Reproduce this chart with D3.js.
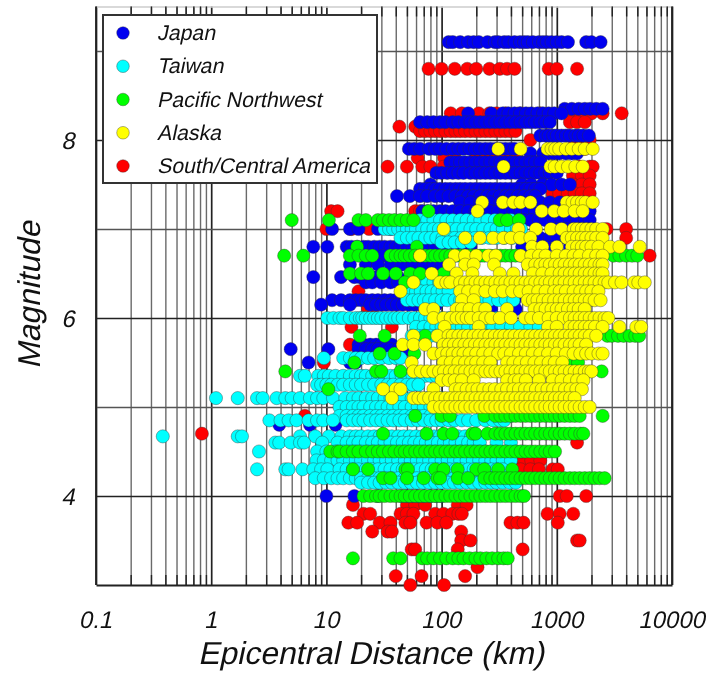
<!DOCTYPE html>
<html><head><meta charset="utf-8">
<script src="https://cdn.jsdelivr.net/npm/d3@7"></script>
<style>
html,body{margin:0;padding:0;background:#fff;overflow:hidden}
svg{display:block;filter:blur(0.55px)}
text{font-family:"Liberation Sans",Arial,sans-serif;fill:#111}
</style></head><body><svg id="c" width="723" height="673"></svg>
<script>
const xTickLabels = ["0.1","1","10","100","1000","10000"];
const xDecades = [0.1,1,10,100,1000,10000];
const xMinor = [0.2,0.3,0.4,0.5,0.6,0.7,0.8,0.9,2,3,4,5,6,7,8,9,20,30,40,50,60,70,80,90,200,300,400,500,600,700,800,900,2000,3000,4000,5000,6000,7000,8000,9000];
const yGrid = [4,5,6,7,8,9];
const yTickLabels = [4,6,8];
const legendNames = ["Japan","Taiwan","Pacific Northwest","Alaska","South/Central America"];
const legendColors = ["#0000f0","#00ffff","#00ff00","#ffff00","#ff0000"];

const redMags = [8.8,8.3,8.2,8.15,8.1,8.0,7.9,7.8,7.7,7.6,7.5,7.4,7.2,7.2,7.0,6.9,6.7,6.3,6.1,5.9,5.7,5.5,4.9,4.7,4.6,4.4,4.3,4.0,3.9,3.8,3.7,3.6,3.5,3.4,3.2,3.1,3.0];
const redDist = [
[77,100,130,167,200,260,320,370,430,850,1000,1500],
[120,150,210,260,300,360,480,720,1300,1600,2000,2500,3660],
[1300,1500,1750],
[43,59],
[65,72,80,88,97,108,120,132,145,160,178,197,217,240,265,293,324,358,396,438],
[590,1430,1750,1930],
[1430,1600,1750],
[62,105,130,197,217,240,265,293,324,358,396,438],
[34,50,68,80,104,1580,1930,2050],
[1380,1650,1930],
[1380,1650,1930],
[920,1050,1250,1430,1650,1930],
[11,12.5],
[59,65],
[10,16.5,23.5,2700,4000],
[4000],
[6400],
[19],
[23,25],
[16.5,37],
[16],
[9.5],
[6.5],
[0.83],
[1500],
[396,450,520,600,720],
[485,590,700,920,1020],
[1060,1220,1800],
[17,50,59,72,138,165],
[21,24,44,50,57,88,104,124,140,150,830,1060,1390],
[15.5,18.5,29,36,48.5,53.5,74,92,110,396,455,515,1020],
[25,34,37,148],
[148,178,1500,1580],
[55,59,138,505],
[205],
[40,67,160],
[53.5,105]];

const japanMags = [9.1,8.35,8.3,8.2,8.05,7.9,7.85,7.75,7.63,7.5,7.45,7.37,7.3,7.2,7.1,7.0,6.9,6.8,6.7,6.6,6.46,6.4,6.3,6.2,6.15,6.1,5.9,5.7,5.65,5.65,5.5,4.8,4.0];
const japanDist = [
[115,125,145,170,190,210,250,290,310,350,380,430,480,520,560,620,700,760,820,900,1000,1100,1250,1800,2000,2400],
[1170,1350,1550,1750,1950,2200,2500],
[170,270,340,380,430,480,540,600,680,760,850,950,1100],
[65,75,85,97,108,125,140,160,178,197,217,240,265,293,324,358,396,438,485,535,590,650,720,795,870],
[720,800,850,930,1000,1100,1200,1300,1450,1550,1700,1900],
[52,58,65,78,88,97,110,125,140,155,175,195,215,240,265,293,324,358,396,430],
[590,760,850,950,1050,1200,1350,1500],
[119,132,145,160,178,197,217,240,265,293,324,358,396,438,485,535,590,650,720],
[90,100,112,125,140,155,178,197,217,240,265,293,324,358,396,438,485,535,590,650,720,795,870,1000],
[80,500,600,750,900,1100,1300],
[65,72,80,88,97,108,119,132,145,160,178,197,217,240,265,293,324,358,396,438,485,535,590,650,720],
[41,53,65,75,88,100,115,132,150,170,190,217,250,280,320,360,400,460,520,590,650],
[145,178,217,265,324,396,485,590,720,870,1060],
[68,75,85,97,108,125,145,170,197,230,265,310,360,420,485,560,650,750,870,1000,1200,1430,1750,1930],
[520,600,700,800,950,1100,1300,1500,1750,1930],
[11.2,16,19,28,36,44,1000,1200,1400,1600,1900],
[620,720,870,1000,1200,1500,1900],
[7.7,10.2,15,16.5,18.5,21,23,26,29,32,36,40,44,50,56,62,70,78,88,100,115,130,150,178,500,620,800,1000,1300,1900],
[31,1100,1500],
[16,22,28,36,45,56,70,85,100],
[7.7,13.4,17.5,19.5,22,25,28,32,36,42],
[22,25,30,36,42,50,60,72,88],
[220,270,430],
[11.2,13.4,16,18,20,22,25,28,32,36,40,45,50,56,63,72,80,265,430],
[9,16,24,27,30,33,37,41,46,52,58,65,72,80,90],
[270,440],
[440,500,560,590],
[19,21,24,27,30,33,37],
[4.9,10.4],
[19,22,25,28,32,36,42,48,52],
[7,16,18],
[3.9,7.2,12],
[10,17.5,28,45,50,56,62,70,80,90,100]];

const taiwanMags = [7.1,7.0,6.9,6.85,6.4,6.3,6.2,6.0,5.9,5.8,5.55,5.35,5.25,5.1,5.0,4.9,4.85,4.67,4.6,4.5,4.4,4.3,4.2,4.15];
const taiwanDist = [
[65,75,85,97,110,125,145,165,190,217,250,290,330,400,470],
[32,35,38,42,46,50,55,60,68,75,85,95,105,120,135,155,178,200,230,265,300,340,400,450,490],
[44,50,56,63,72,80,90,102,115,130,148,170,195,225,260,300,350,410,480],
[100,115,130,150,178],
[56,60,68,75,85,95,110,119],
[54,60,66,74,82,92,102,115,240,290],
[50,56,63,70,78,88,100,112,130,145,165,190,220,260,310,360,420],
[10.2,11.5,13,14,16,18,19.5,20.5,22,24,26,28,30,33,36,39,42,46,52,58,65,72,80,90,100,115,130,150,170,200,240,300],
[60,70,80,90,100,115,130,150,170,200,235,280,330,400,480,590,700],
[55,62,70,80,90,240,300,360],
[9.5,14,16,18,20,23,26,30,35,40,44],
[5.9,6.5,8.5,9.5,10.5,12,14,16,18,20,22,25,28,32,36,40,45,50,56,63,72,80,90,100,115,130],
[8.3,9,10,11,12.5,14,16,18,20,23,26,30,34,38,44,50,56,63],
[1.1,1.7,2.5,2.8,3.7,4.4,5,5.9,7.2,8.3,9.4,11.4,14.6,17,19,22,25,28,32,36,41,47,55,65,75,85,100],
[13,15,17,19,21,24,27,30,34,38,43,48,55,62,70,80,90,260,320,400],
[13,15,17,19,21,24,27,30,34,38,43,48,55,62,70,80,90,240,320,400],
[3.2,4,4.7,5.5,7,8.3,9.4,11.4,15,17,19,21,24,27,30,34,38,43,48,55,62,70,80,90,100,115,130,150,170,200,240,280,320,350],
[0.38,1.7,1.85,5.9,8,10.5,13.5,16,18,20,23,26,29,33,37,42,47,53,60,68,76,86,97,110,125,140,160,180,205],
[3.6,3.9,4.9,5.9,6.4,9.2,12.5,15,17,19,22,25,28,32,36,41,46,52,58,65,73,82,93,105,118,132,150,170,190,215,300,400],
[2.6,8.3,10,12,14,16,18,20,23,26,29,33,37,42,48,54,61,69,78,88,100,113,128,145,165,187,212,240,270,300,360,440,500],
[8.2,9.5,11,12.5,14,16,18,20,23,26,29,33,37,42,48,54,61,69,78,88,100,113,128,145,165,187,212,240,270,300,340,400],
[2.5,4.4,4.7,6.2,7.7,9,10.2,13,15,17,19,22,25,28,32,36,41,46,52,58,65,73,82,93,105,118,132,150,170,190,215,240,270,300,340],
[8,9.5,11,12.5,14,16,18,20,23,26,29,33,37,42,48,54,61,69,78,88,100,113,128,145,165,187,212,240,270,320],
[20,23,26,29,33,37,42,48,54,61,69,78,88,100,113,128,145,165,187,212,240,270,300,340,390,440]];

const greenMags = [7.2,7.1,6.8,6.7,6.5,6.4,5.8,5.6,5.5,5.4,5.2,4.9,4.7,4.5,4.3,4.2,4.0,3.3];
const greenDist = [
[77],
[5,10.5,19,22,28,31,35,39,44,50,57,320,370,470],
[18.5,61],
[4.3,6.3,16,19,22,25,36,40,44,48,53,59,65,72,80,88,97,108,119,132,145,160,178,197,217,235,265,293,324,358,396,438,485,735,3100,3500,4000,4500,5000],
[16,20,23,31,40,53.5,65,104],
[48],
[19.5,32,72,2750,3000,3400,3800,4300,4800,5200],
[29,39,58],
[17.5,148,230,1200,1530],
[4.4,27,30,44,2450],
[10.4],
[59,100,118,235,293,324,358,396,438,485,535,590,650,720,795,870,965,1060,1170,1300,1430,1580,2500],
[31,74,104,124,185,197,250,293,324,358,396,438,485,535,590,650,720,795,870,965,1060,1170,1300,1430,1600,1700],
[10.8,12.5,13,15,17,19,22,25,28,31,35,39,44,48,53,59,65,72,80,88,97,108,119,132,145,160,178,197,217,240,265,293,324,358,396,438,485,535,590,650,720,795,870,965],
[17,23,48.5,51,88,104,138,200,235,310,410],
[31,36,50,70,92,97,138,170,235,265,293,324,358,396,438,485,535,590,650,720,795,870,965,1060,1170,1300,1430,1580,1750,1930,2130,2350,2600],
[21,24,27,29,32,36,40,44,48,53,59,65,72,80,88,97,108,119,132,145,160,178,197,217,240,265,293,324,358,396,438,485,520],
[17,38,44,68,75,85,97,110,125,140,155,175,197,217,245,275,310,345,375]];

const alaskaMags = [7.9,7.7,7.3,7.2,7.0,6.9,6.8,6.7,6.6,6.5,6.4,6.3,6.2,6.1,6.0,5.9,5.8,5.7,5.6,5.5,5.4,5.3,5.2,5.1,5.0];
const alaskaDist = [
[310,485,830,900,970,1050,1200,1350,1550,1750,2050],
[345,880,960,1100,1250,1450,1680],
[225,340,420,485,590,1220,1370,1500,1650,1780,2050],
[205,740,950,1150,1430,1680],
[104,465,660,890,1100,1400,1500,1650,1800,2000,2200,2500],
[160,215,280,345,400,480,590,1220,1350,1500,1650,1800,2000,2200,2500],
[610,750,1000,1350,1500,1650,1800,2000,2300,2900,3500,5250],
[65,130,160,200,255,295,485,600,700,800,1000,1200,1400,1580,1900,2200,2500],
[116,160,190,285,560,650,720,795,870,965,1060,1170,1300,1430,1580,1750,1930,2130,2350,2500],
[82,135,185,320,420,620,750,900,1060,1170,1300,1430,1580,1750,1930,2130,2350,2500],
[57,97,110,119,145,160,178,197,217,240,265,293,324,358,396,438,485,535,590,650,720,795,870,965,1060,1170,1300,1430,1580,1750,1930,2130,2350,2600,2800,3200,3650,4700,5100,5800],
[44,145,170,200,240,290,340,410,480,570,690,800,950,1060,1200,1400,1600,1800,2000,2300],
[150,190,560,620,680,760,850,950,1060,1170,1300,1430,1580,1750,1930,2130,2400],
[72,85,135,150,175,210,240,370,640,720,800,900,1000,1100,1250,1400,1550,1750],
[85,104,120,135,150,165,180,210,240,270,320,400,530,600,700,850,1000,1150,1300,1430,1580,1750,1930,2130,2350,2600,2800],
[106,210,840,1000,1300,1430,1580,1750,1930,2150,2500,3500,4900,5400],
[57,92,115,125,140,155,170,190,210,235,260,290,320,350,390,430,480,530,590,650,720,795,870,965,1060,1170,1300,1430,1580,1750,1930,2200],
[46,57,72,104,115,128,142,158,175,195,215,240,265,293,324,358,396,438,485,535,590,650,720,795,870,965,1060,1170,1300,1430,1580,1800],
[85,100,112,125,140,155,175,200,230,265,310,350,400,470,540,620,720,840,1000,1200,1400,1600,1800,2000,2300,2500],
[55,104,120,140,160,180,200,230,265,370,420,480,550,640,730,850,960,1120],
[57,66,75,85,95,105,118,130,145,160,178,197,217,240,265,293,324,358,396,438,485,535,590,650,720,795,870,965,1060,1170,1300,1430,1580,1750,1900,2000],
[100,115,130,150,190,370,430,470,540,700,920,1100,1300,1500,1700],
[31,40,44,85,132,145,165,185,205,230,260,290,330,370,420,470,530,590,660,740,830,930,1050,1180,1320,1480,1650],
[37,57,63,70,78,88,97,108,119,132,145,160,178,197,217,240,265,293,324,358,396,438,485,535,590,650,720,795,870,965,1060,1170,1300,1430],
[85,97,108,119,132,145,160,178,197,217,240,265,293,324,358,396,438,485,535,590,650,720,795,870,965,1060,1170,1300,1430,1580,1750,1930]];

const pLeft=96,pRight=672,pTop=6.5,pBottom=585;
const slant="skewX(-12)";
const x=d3.scaleLog().domain([0.1,10000]).range([pLeft,pRight]);
const y=d3.scaleLinear().domain([3,9.5]).range([pBottom,pTop]);
const svg=d3.select("#c");

// grid
const gx=svg.append("g").attr("transform",`translate(0,${pBottom})`)
  .call(d3.axisBottom(x).tickValues(xMinor).tickSize(-(pBottom-pTop)).tickFormat(""));
gx.select(".domain").remove();
gx.selectAll("line").attr("stroke","#6a6a6a").attr("stroke-width",1.4);
const gd=svg.append("g").attr("transform",`translate(0,${pBottom})`)
  .call(d3.axisBottom(x).tickValues(xDecades).tickSize(-(pBottom-pTop)).tickFormat(""));
gd.select(".domain").remove();
gd.selectAll("line").attr("stroke","#222").attr("stroke-width",1.7);
const gy=svg.append("g").attr("transform",`translate(${pLeft},0)`)
  .call(d3.axisLeft(y).tickValues(yGrid).tickSize(-(pRight-pLeft)).tickFormat(""));
gy.select(".domain").remove();
gy.selectAll("line").attr("stroke",d=>d%2?"#555":"#222").attr("stroke-width",1.6);

// frame: short ticks and domain lines
const bt=svg.append("g").attr("transform",`translate(0,${pBottom})`)
  .call(d3.axisBottom(x).tickValues(xMinor).tickSize(-10).tickFormat("").tickSizeOuter(0));
bt.selectAll("line").attr("stroke","#222").attr("stroke-width",1.4);
bt.select(".domain").attr("stroke","#222").attr("stroke-width",1.8);
const tt=svg.append("g").attr("transform",`translate(0,${pTop})`)
  .call(d3.axisTop(x).tickValues(xMinor).tickSize(-10).tickFormat("").tickSizeOuter(0));
tt.selectAll("line").attr("stroke","#222").attr("stroke-width",1.4);
tt.select(".domain").attr("stroke","#ccc").attr("stroke-width",1.5);
[pLeft,pRight].forEach(p=>svg.append("line").attr("x1",p).attr("x2",p).attr("y1",pTop).attr("y2",pBottom).attr("stroke","#222").attr("stroke-width",1.8));

// points: red lies beneath everything, then legend order
const layers=[[redMags,redDist,legendColors[4]],[japanMags,japanDist,legendColors[0]],[taiwanMags,taiwanDist,legendColors[1]],[greenMags,greenDist,legendColors[2]],[alaskaMags,alaskaDist,legendColors[3]]];
layers.forEach(([mags,dist,col])=>{
  const pts=mags.flatMap((m,i)=>dist[i].map(d=>({m,d})));
  svg.append("g").selectAll("circle").data(pts).join("circle")
    .attr("cx",p=>x(p.d)).attr("cy",p=>y(p.m)).attr("r",6.6)
    .attr("fill",col).attr("stroke","#333").attr("stroke-opacity",.55).attr("stroke-width",.7);
});

// tick labels
const lx=svg.append("g").attr("transform",`translate(-1,${pBottom})`)
  .call(d3.axisBottom(x).tickValues(xDecades).tickSize(0).tickFormat((d,i)=>xTickLabels[i]));
lx.select(".domain").remove();
lx.selectAll("text").attr("y",0).attr("dy",null).attr("transform",`translate(0,43) ${slant}`).attr("font-size",24).attr("fill","#111").style("font-family",'"Liberation Sans",Arial,sans-serif');
const ly=svg.append("g").attr("transform",`translate(${pLeft},0)`)
  .call(d3.axisLeft(y).tickValues(yTickLabels).tickSize(0).tickFormat(d=>d));
ly.select(".domain").remove();
ly.selectAll("text").attr("x",0).attr("dy",null).attr("text-anchor","middle").attr("transform",`translate(-28,8.5) ${slant}`).attr("font-size",24).attr("fill","#111").style("font-family",'"Liberation Sans",Arial,sans-serif');

svg.append("text").attr("transform",`translate(371,664) ${slant}`).attr("text-anchor","middle").attr("font-size",31.8).text("Epicentral Distance (km)");
svg.append("text").attr("transform",`translate(40,295) rotate(-90) ${slant}`).attr("text-anchor","middle").attr("font-size",31.6).text("Magnitude");

// legend
svg.append("rect").attr("x",103).attr("y",15).attr("width",274).attr("height",168).attr("fill","#fff").attr("stroke","#333").attr("stroke-width",2);
const legendY=d3.scalePoint().domain(legendNames).range([33,166]);
const lg=svg.append("g").selectAll("g").data(legendNames).join("g").attr("transform",d=>`translate(0,${legendY(d)})`);
lg.append("circle").attr("cx",123).attr("r",6.3).attr("fill",(d,i)=>legendColors[i]).attr("stroke","#333").attr("stroke-opacity",.55).attr("stroke-width",.7);
lg.append("text").attr("transform",`translate(157,7) ${slant}`).attr("font-size",21.3).text(d=>d);
</script></body></html>
